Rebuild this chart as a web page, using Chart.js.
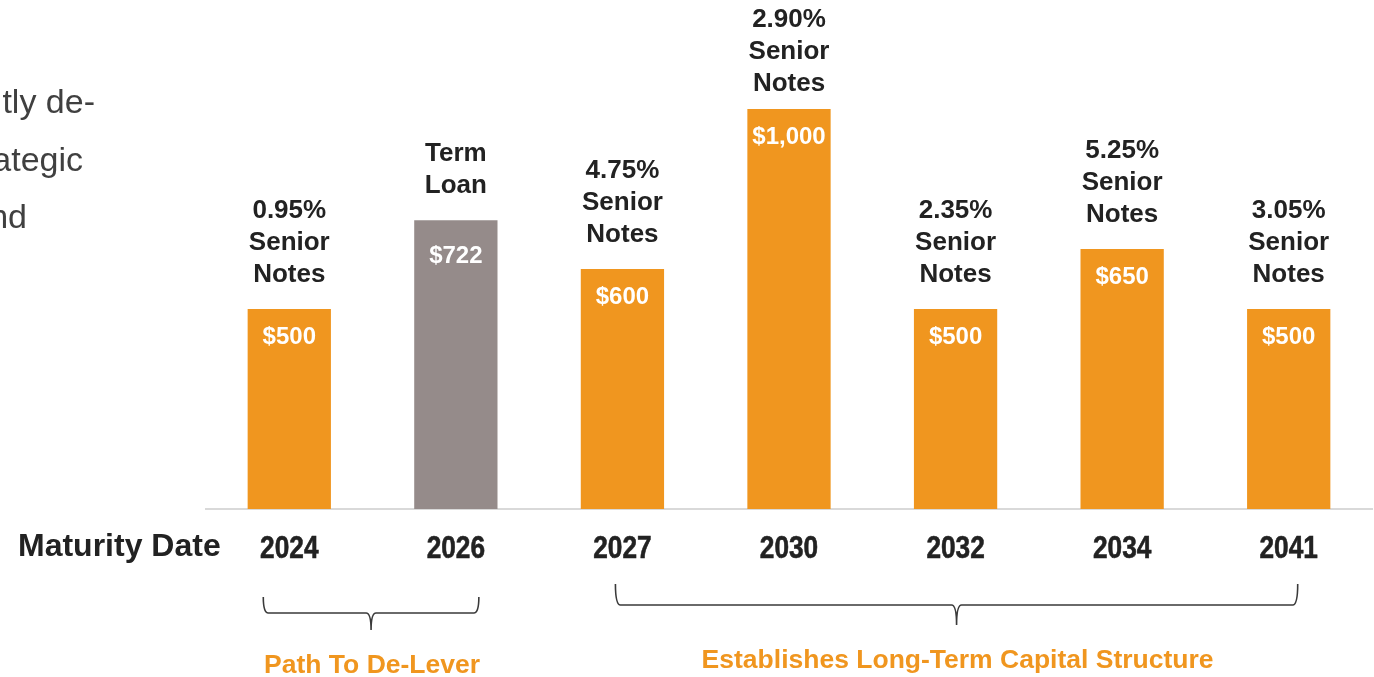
<!DOCTYPE html>
<html>
<head>
<meta charset="utf-8">
<title>Debt Maturity Profile</title>
<script src="https://cdn.jsdelivr.net/npm/chart.js@4.4.1/dist/chart.umd.min.js"></script>
<style>
  html, body { margin: 0; padding: 0; background: #ffffff; overflow: hidden; }
  #wrap { position: relative; width: 1374px; height: 677px; }
</style>
</head>
<body>
<div id="wrap"><canvas id="maturities" width="1374" height="677"></canvas></div>
<script>
// maturity years and principal amounts ($ millions)
const years = ['2024', '2026', '2027', '2030', '2032', '2034', '2041'];
const amounts = [500, 722, 600, 1000, 500, 650, 500];
const instruments = [
  ['0.95%', 'Senior', 'Notes'],
  ['Term', 'Loan'],
  ['4.75%', 'Senior', 'Notes'],
  ['2.90%', 'Senior', 'Notes'],
  ['2.35%', 'Senior', 'Notes'],
  ['5.25%', 'Senior', 'Notes'],
  ['3.05%', 'Senior', 'Notes']
];
const isTermLoan = [false, true, false, false, false, false, false];
const groupLabels = ['Path To De-Lever', 'Establishes Long-Term Capital Structure'];
const groupRanges = [[0, 1], [2, 6]];
const sideText = ['tly de-', 'ategic', 'nd'];

const ORANGE = '#F0961F';
const GRAY = '#958B8A';
const INK = '#222222';
const SANS = '"Liberation Sans", Arial, Helvetica, sans-serif';

// amount inside bar + instrument name stacked above
const barLabels = {
  id: 'barLabels',
  afterDatasetsDraw(chart) {
    const ctx = chart.ctx;
    const meta = chart.getDatasetMeta(0);
    ctx.save();
    ctx.textAlign = 'center';
    ctx.textBaseline = 'middle';
    meta.data.forEach((bar, i) => {
      ctx.fillStyle = '#ffffff';
      ctx.font = 'bold 24px ' + SANS;
      const inset = isTermLoan[i] ? 36 : 28;
      ctx.fillText('$' + amounts[i].toLocaleString('en-US'), bar.x, bar.y + inset);

      const lines = instruments[i];
      ctx.fillStyle = INK;
      ctx.font = 'bold 26px ' + SANS;
      // keep the tallest stack inside the canvas
      const first = Math.max(20, bar.y - 34 - (lines.length - 1) * 32);
      lines.forEach((txt, j) => {
        ctx.fillText(txt, bar.x, first + j * 32);
      });
    });
    ctx.restore();
  }
};

// year labels in a condensed bold face (squeezed Liberation Sans)
const yearLabels = {
  id: 'yearLabels',
  afterDraw(chart) {
    const ctx = chart.ctx;
    const x = chart.scales.x;
    ctx.save();
    ctx.fillStyle = INK;
    ctx.strokeStyle = INK;
    ctx.lineWidth = 0.6;
    ctx.font = 'bold 32px ' + SANS;
    ctx.textAlign = 'center';
    ctx.textBaseline = 'middle';
    x.ticks.forEach((t, i) => {
      const px = x.getPixelForTick(i);
      const label = x.getLabelForValue(t.value);
      ctx.save();
      ctx.translate(px, 549);
      ctx.scale(0.82, 1);
      ctx.fillText(label, 0, 0);
      ctx.strokeText(label, 0, 0);
      ctx.restore();
    });
    ctx.restore();
  }
};

// "Maturity Date" caption, clipped side text, grouping braces
const extras = {
  id: 'extras',
  afterDraw(chart, args, opts) {
    const ctx = chart.ctx;
    const x = chart.scales.x;
    ctx.save();

    ctx.fillStyle = INK;
    ctx.font = 'bold 32px ' + SANS;
    ctx.textAlign = 'left';
    ctx.textBaseline = 'middle';
    ctx.fillText('Maturity Date', 18, 547);

    ctx.fillStyle = '#404040';
    ctx.font = '34px ' + SANS;
    ctx.textAlign = 'right';
    ctx.textBaseline = 'alphabetic';
    sideText.forEach((t, i) => ctx.fillText(t, opts.sideRight[i], 113 + i * 57.5));

    groupRanges.forEach((range, g) => {
      const b = opts.braces[g];
      const x0 = x.getPixelForValue(range[0]) + b.inset[0];
      const x1 = x.getPixelForValue(range[1]) + b.inset[1];
      const cx = (x0 + x1) / 2;
      const r = 5;
      ctx.strokeStyle = '#3a3a3a';
      ctx.lineWidth = 1.6;
      ctx.beginPath();
      ctx.moveTo(x0, b.top);
      ctx.quadraticCurveTo(x0, b.mid, x0 + r, b.mid);
      ctx.lineTo(cx - r, b.mid);
      ctx.quadraticCurveTo(cx, b.mid, cx, b.tip);
      ctx.quadraticCurveTo(cx, b.mid, cx + r, b.mid);
      ctx.lineTo(x1 - r, b.mid);
      ctx.quadraticCurveTo(x1, b.mid, x1, b.top);
      ctx.stroke();

      ctx.fillStyle = ORANGE;
      ctx.font = 'bold 26.5px ' + SANS;
      ctx.textAlign = 'center';
      ctx.textBaseline = 'middle';
      ctx.fillText(groupLabels[g], cx + 1, b.text);
    });
    ctx.restore();
  }
};

new Chart(document.getElementById('maturities'), {
  type: 'bar',
  data: {
    labels: years,
    datasets: [{
      data: amounts,
      backgroundColor: isTermLoan.map(t => t ? GRAY : ORANGE),
      borderWidth: 0,
      barPercentage: 0.5,
      categoryPercentage: 1.0
    }]
  },
  options: {
    responsive: false,
    animation: false,
    layout: { padding: { left: 206, right: 2, top: 9, bottom: 108 } },
    plugins: {
      legend: { display: false },
      tooltip: { enabled: false },
      extras: {
        sideRight: [95, 83, 27],
        braces: [
          { inset: [-26, 23], top: 597, mid: 613, tip: 630, text: 666 },
          { inset: [-7, 9], top: 584, mid: 605, tip: 625, text: 661 }
        ]
      }
    },
    scales: {
      x: {
        afterFit(scale) { scale.height = 60; },
        grid: { display: false, drawTicks: false },
        border: { display: true, color: '#d9d9d9', width: 2 },
        ticks: { display: false }
      },
      y: {
        display: false,
        min: 0,
        max: 1250
      }
    }
  },
  plugins: [barLabels, yearLabels, extras]
});
</script>
</body>
</html>
